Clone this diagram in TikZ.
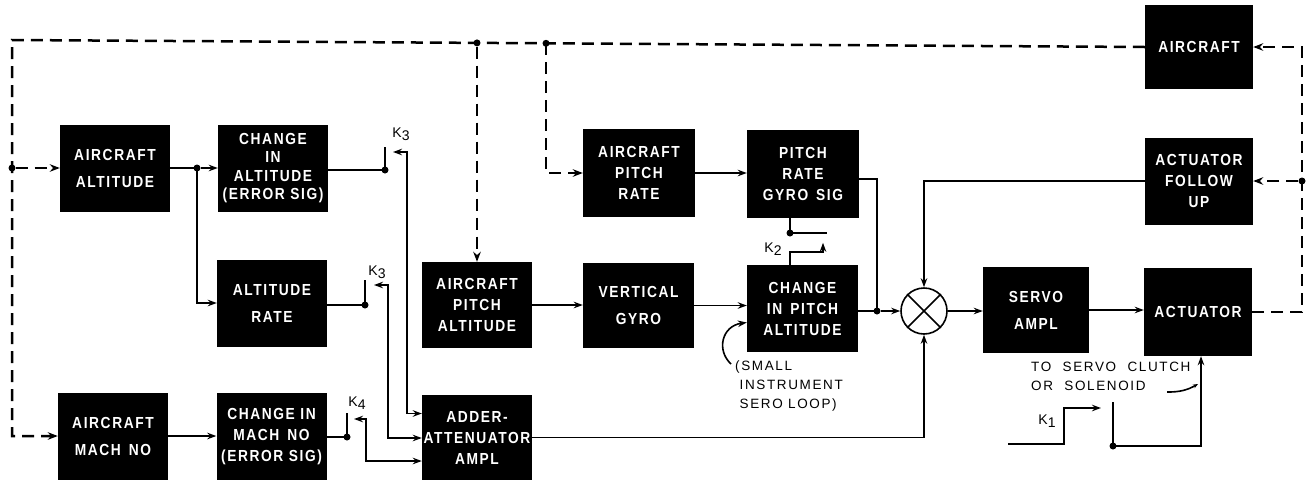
\documentclass[tikz,border=0pt]{standalone}
\usepackage{fontspec}
\setmainfont{Liberation Sans}
\newfontfamily\blkfont[LetterSpace=10,FakeStretch=0.86]{Liberation Sans}
\newfontfamily\lblfont[LetterSpace=12]{Liberation Sans}
\usetikzlibrary{arrows.meta,calc}
\tikzset{
  blk/.style={rectangle, fill=black, text=white, inner sep=0pt, align=center, minimum width=110pt, minimum height=87pt, font=\blkfont\bfseries\fontsize{16}{21}\selectfont},
  blktwo/.style={blk, font=\blkfont\bfseries\fontsize{16}{27}\selectfont},
  blkfour/.style={blk, font=\blkfont\bfseries\fontsize{16}{18.5}\selectfont},
  ln/.style={line width=1.6pt},
  arr/.style={ln, -{Stealth[length=9pt,width=6.5pt]}},
  arrtwo/.style={ln, {Stealth[length=9pt,width=6.5pt]}-{Stealth[length=9pt,width=6.5pt]}},
  dsh/.style={line width=2.5pt, dash pattern=on 12pt off 7pt},
  darr/.style={dsh, -{Stealth[length=10pt,width=7.5pt]}},
  jdot/.style={circle, fill=black, inner sep=0pt, minimum size=7pt},
  klbl/.style={font=\lblfont\fontsize{14}{16}\selectfont, inner sep=0pt},
  note/.style={font=\lblfont\fontsize{13.5}{19}\selectfont, inner sep=0pt, align=left},
}
\begin{document}
\begin{tikzpicture}[x=1pt,y=-1pt]
\useasboundingbox (0,0) rectangle (1315,483);
% blocks
\node[blktwo] (alt) at (115,168) {AIRCRAFT\\ALTITUDE};
\node[blkfour] (chalt) at (273,168) {CHANGE\\IN\\ALTITUDE\\(ERROR SIG)};
\node[blktwo] (altrate) at (272,303) {ALTITUDE\\RATE};
\node[blktwo] (mach) at (113,436) {AIRCRAFT\\MACH\enspace NO};
\node[blk] (chmach) at (271.5,436.5) {CHANGE IN\\MACH\enspace NO\\(ERROR SIG)};
\node[blk, minimum height=85pt] (adder) at (477,437.5) {ADDER-\\ATTENUATOR\\AMPL};
\node[blk, minimum height=86pt] (pitchalt) at (477,305) {AIRCRAFT\\PITCH\\ALTITUDE};
\node[blk, minimum width=112pt, minimum height=88pt] (pitchrate) at (639,173) {AIRCRAFT\\PITCH\\RATE};
\node[blktwo, minimum width=111pt, minimum height=85pt] (vgyro) at (638.5,305.5) {VERTICAL\\GYRO};
\node[blk, minimum width=112pt, minimum height=88pt] (gyrosig) at (803,174) {PITCH\\RATE\\GYRO\enspace SIG};
\node[blk, minimum width=111pt] (chpitch) at (802.5,308.5) {CHANGE\\IN\enspace PITCH\\ALTITUDE};
\node[circle, draw, line width=1.6pt, minimum size=46pt, inner sep=0pt] (sum) at (924,311) {};
\draw[ln] (sum.north west) -- (sum.south east) (sum.north east) -- (sum.south west);
\node[blktwo, minimum width=106pt, minimum height=86pt] (servo) at (1036,310) {SERVO\\AMPL};
\node[blk, minimum width=108pt, minimum height=88pt] (actuator) at (1198,312) {ACTUATOR};
\node[blk, minimum width=108pt] (follow) at (1199,181) {ACTUATOR\\FOLLOW\\UP};
\node[blk, minimum width=108pt, minimum height=84pt] (aircraft) at (1199,47) {AIRCRAFT};
% dashed feedback
\coordinate (tl) at (12,40);
\node[jdot] (dA) at (12,168) {};
\draw[darr] (aircraft.west) -- (tl) -- (tl |- mach.west) -- (mach.west);
\draw[darr] (dA) -- (alt.west);
\node[jdot] (j1) at (477,42.9) {};
\node[jdot] (j2) at (546,43.3) {};
\draw[darr] (j1) -- (pitchalt.north);
\draw[darr] (j2.center) |- (pitchrate.west);
\node[jdot] (dR) at (1302,181) {};
\draw[darr] (actuator.east) -| (dR.center) |- (aircraft.east);
\draw[darr] (dR) -- (follow.east);
% altitude branch
\node[jdot] (d1) at (197,168) {};
\draw[ln] (alt.east) -- (d1.center);
\draw[arr] (d1) -- (chalt.west);
\draw[arr] (d1.center) |- (altrate.west);
% K3 upper
\node[jdot] (k3a) at (385,170) {};
\draw[ln] (chalt.east |- k3a) -- (k3a.center) -- ++(0,-23);
\coordinate (c3a) at (393,152);
\draw[arrtwo] (c3a) -| ($(adder.west)+(-15,-24)$) -- ($(adder.west)+(0,-24)$);
\node[klbl] (lk3a) at (401,134) {K\raisebox{-3pt}{3}};
% K3 lower
\node[jdot] (k3b) at (365,305) {};
\draw[ln] (altrate.east |- k3b) -- (k3b.center) -- ++(0,-25);
\coordinate (c3b) at (374,285);
\draw[arrtwo] (c3b) -| ($(adder.west)+(-34,0.5)$) -- ($(adder.west)+(0,0.5)$);
\node[klbl] (lk3b) at (377,272) {K\raisebox{-3pt}{3}};
% K4
\node[jdot] (k4) at (347,437) {};
\draw[ln] (chmach.east |- k4) -- (k4.center) -- ++(0,-24);
\coordinate (c4) at (354,419);
\draw[arrtwo] (c4) -| ($(adder.west)+(-56,23.5)$) -- ($(adder.west)+(0,23.5)$);
\node[klbl] (lk4) at (357,403) {K\raisebox{-3pt}{4}};
\draw[arr] (mach.east) -- (mach.east -| chmach.west);
% pitch chain
\draw[arr] (pitchrate.east) -- (pitchrate.east -| gyrosig.west);
\draw[arr] (pitchalt.east) -- (pitchalt.east -| vgyro.west);
\draw[arr] (vgyro.east) -- (vgyro.east -| chpitch.west);
% K2
\node[jdot] (k2) at (790,233) {};
\draw[ln] (k2 |- gyrosig.south) -- (k2.center) -- ++(37,0);
\draw[arr] (k2 |- chpitch.north) -- ++(0,-13) -- ++(33,0) -- ++(0,-9);
\node[klbl] (lk2) at (773,249) {K\raisebox{-3pt}{2}};
% to summing point
\node[jdot] (d5) at (877,311) {};
\draw[ln] ($(gyrosig.east)+(0,5)$) -| (d5.center);
\draw[ln] (chpitch.east |- d5) -- (d5.center);
\draw[arr] (d5) -- (sum.west);
\draw[arr] (adder.east) -| (sum.south);
\draw[arr] (follow.west) -| (sum.north);
\draw[arr] (sum.east) -- (sum.east -| servo.west);
\draw[arr] (servo.east) -- (servo.east -| actuator.west);
% small loop note
\coordinate (lp) at (731,364);
\draw[arr] (lp) .. controls (716,350) and (722,326) .. ($(chpitch.west)+(0,14)$);
\node[note, anchor=north west] (nloop) at (735,361) {(SMALL\\\hphantom{(}INSTRUMENT\\\hphantom{(}SERO LOOP)};
% K1 and clutch
\node[note, anchor=north west] (nclutch) at (1031,362) {TO\hspace{6pt} SERVO\hspace{6pt} CLUTCH\\OR\hspace{6pt} SOLENOID};
\draw[ln, -{Stealth[length=5pt,width=4pt]}] (1167,392) to[bend right=15] (1198,384);
\coordinate (k1in) at (1008,444);
\coordinate (k1out) at (1101,408);
\draw[arr] (k1in) -- (1064,444) -- (1064,408) -- (k1out);
\node[klbl] (lk1) at (1047,421) {K\raisebox{-3pt}{1}};
\node[jdot] (k1d) at (1113,446) {};
\coordinate (k1top) at (1113,402);
\draw[ln] (k1top) -- (k1d.center);
\draw[arr] (k1d.center) -| ($(actuator.south)+(3,0)$);
\end{tikzpicture}
\end{document}
